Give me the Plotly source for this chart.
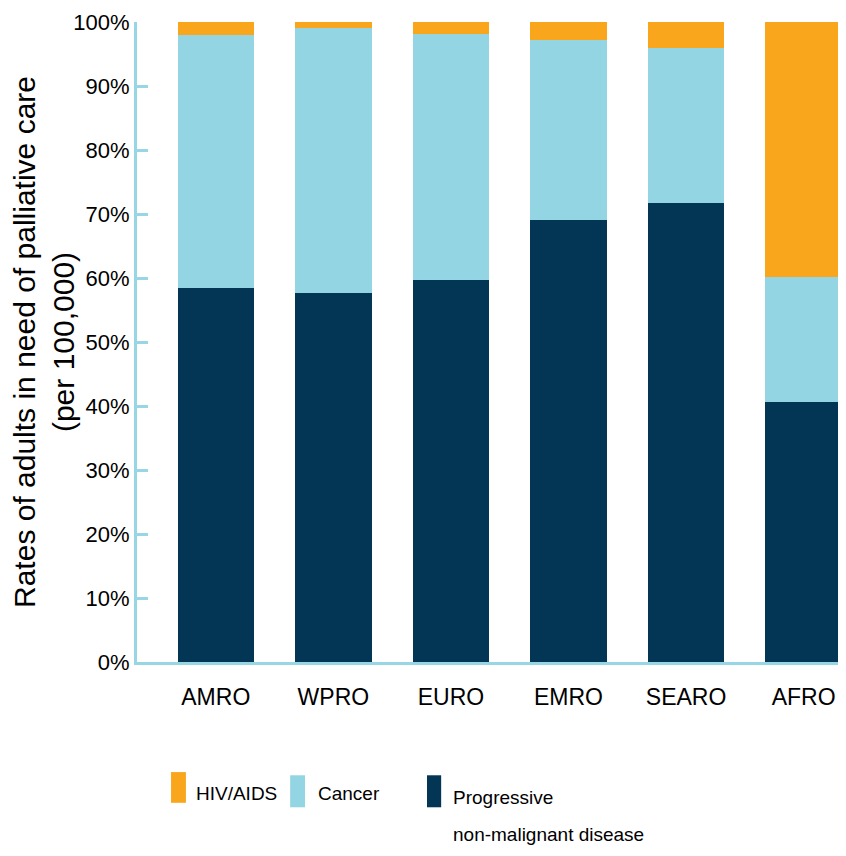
import plotly.graph_objects as go

regions = ["AMRO", "WPRO", "EURO", "EMRO", "SEARO", "AFRO"]
progressive = [58.4, 57.7, 59.7, 69.1, 71.7, 40.7]
cancer = [39.6, 41.4, 38.5, 28.1, 24.3, 19.5]
hiv_aids = [2.0, 0.9, 1.8, 2.8, 4.0, 39.8]
y_ticks = [0, 10, 20, 30, 40, 50, 60, 70, 80, 90, 100]

ORANGE = "#F9A61C"
LIGHT = "#93D5E3"
NAVY = "#023654"
AXIS = "#97D6E4"
FONT = "Liberation Sans, Arial, sans-serif"

fig = go.Figure()
for name, vals, col in [("Progressive non-malignant disease", progressive, NAVY),
                        ("Cancer", cancer, LIGHT),
                        ("HIV/AIDS", hiv_aids, ORANGE)]:
    fig.add_trace(go.Bar(x=regions, y=vals, name=name, showlegend=False,
                         marker=dict(color=col, line=dict(width=0))))

# page body has an 8px margin, so the figure is sized to fit inside the window
fig.update_layout(
    barmode="stack",
    bargap=0.35,
    width=838, height=840,
    margin=dict(l=129, r=0, t=14, b=186),
    plot_bgcolor="white", paper_bgcolor="white",
    font=dict(family=FONT, color="black"),
)
fig.update_xaxes(
    range=[-0.67, 5.36],
    showline=True, linecolor=AXIS, linewidth=3,
    ticks="", tickfont=dict(size=23), ticklabelstandoff=12,
    showgrid=False,
)
fig.update_yaxes(
    range=[0, 100],
    tickvals=y_ticks, ticktext=[f"{v}%" for v in y_ticks],
    showline=True, linecolor=AXIS, linewidth=3,
    ticks="inside", ticklen=11, tickwidth=3, tickcolor=AXIS,
    tickfont=dict(size=22),
    showgrid=False, zeroline=False,
    title=dict(text="Rates of adults in need of palliative care<br>(per 100,000)",
               font=dict(size=30), standoff=2),
)

# hand-made legend below the plot
legend_items = [("HIV/AIDS", ORANGE, 0.048, 0.069, -0.172, -0.220, 0.080, -0.205),
                ("Cancer", LIGHT, 0.216, 0.237, -0.177, -0.227, 0.253, -0.205),
                ("Progressive", NAVY, 0.409, 0.429, -0.177, -0.227, 0.443, -0.211)]
for label, col, x0, x1, y0, y1, tx, ty in legend_items:
    fig.add_shape(type="rect", xref="paper", yref="paper", x0=x0, x1=x1, y0=y0, y1=y1,
                  fillcolor=col, line=dict(width=0))
    fig.add_annotation(text=label, xref="paper", yref="paper", x=tx, y=ty,
                       xanchor="left", yanchor="middle", showarrow=False,
                       font=dict(size=19, color="black"))
fig.add_annotation(text="non-malignant disease", xref="paper", yref="paper", x=0.443, y=-0.270,
                   xanchor="left", yanchor="middle", showarrow=False,
                   font=dict(size=19, color="black"))

fig.write_html("out.html")
